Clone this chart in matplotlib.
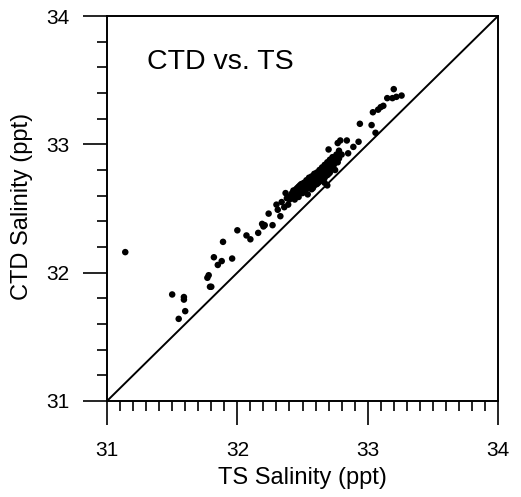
import numpy as np
import matplotlib
matplotlib.use("Agg")
import matplotlib.pyplot as plt
from matplotlib.ticker import MultipleLocator

plt.rcParams['font.family'] = ['Liberation Sans', 'DejaVu Sans']

# TS salinity (x) and CTD salinity (y)
ts_sal = [
    31.14,
    31.50, 31.59, 31.59, 31.60, 31.55,
    31.77, 31.78, 31.79, 31.80, 31.82, 31.85, 31.88, 31.89, 31.96,
    32.00, 32.07, 32.10, 32.16, 32.19, 32.20, 32.21, 32.24, 32.27, 32.30,
    32.31, 32.33, 32.34, 32.36, 32.37, 32.38, 32.40, 32.39, 32.41,
    32.42, 32.44, 32.45, 32.46, 32.47, 32.48, 32.49, 32.50, 32.50, 32.51,
    32.52, 32.52, 32.53, 32.54, 32.54, 32.55, 32.56, 32.56, 32.57, 32.57,
    32.58, 32.58, 32.59, 32.59, 32.60, 32.60, 32.61, 32.61, 32.62, 32.62,
    32.63, 32.63, 32.64, 32.64, 32.65, 32.65, 32.66, 32.66, 32.67, 32.67,
    32.68, 32.68, 32.69, 32.69, 32.70, 32.70, 32.71, 32.71, 32.72, 32.72,
    32.73, 32.74, 32.75, 32.75, 32.76, 32.77, 32.78, 32.78, 32.80,
    32.46, 32.48, 32.51, 32.53, 32.55, 32.57, 32.59, 32.61, 32.63, 32.65,
    32.67, 32.69, 32.71, 32.73, 32.74, 32.76, 32.50, 32.55, 32.60, 32.65,
    32.58, 32.62, 32.66, 32.70, 32.54, 32.44, 32.43, 32.47,
    32.67, 32.69,
    32.70, 32.77, 32.79, 32.84, 32.85, 32.89, 32.93,
    32.94, 33.03, 33.06, 33.04, 33.08, 33.10, 33.12, 33.15, 33.19, 33.20,
    33.22, 33.26,
]
ctd_sal = [
    32.16,
    31.83, 31.81, 31.79, 31.70, 31.64,
    31.96, 31.98, 31.89, 31.89, 32.12, 32.06, 32.09, 32.24, 32.11,
    32.33, 32.29, 32.26, 32.31, 32.38, 32.36, 32.37, 32.46, 32.37, 32.53,
    32.49, 32.44, 32.55, 32.51, 32.62, 32.58, 32.57, 32.53, 32.60,
    32.62, 32.60, 32.65, 32.63, 32.67, 32.64, 32.69, 32.66, 32.62, 32.70,
    32.67, 32.64, 32.72, 32.69, 32.66, 32.74, 32.71, 32.68, 32.75, 32.65,
    32.73, 32.70, 32.77, 32.68, 32.74, 32.71, 32.78, 32.69, 32.76, 32.73,
    32.80, 32.71, 32.77, 32.74, 32.82, 32.72, 32.79, 32.76, 32.84, 32.74,
    32.81, 32.78, 32.86, 32.76, 32.83, 32.80, 32.88, 32.78, 32.85, 32.82,
    32.90, 32.84, 32.87, 32.80, 32.92, 32.86, 32.95, 32.89, 32.92,
    32.66, 32.68, 32.65, 32.70, 32.69, 32.72, 32.72, 32.75, 32.75, 32.78,
    32.79, 32.81, 32.83, 32.86, 32.88, 32.89, 32.64, 32.71, 32.69, 32.76,
    32.66, 32.70, 32.73, 32.77, 32.61, 32.57, 32.64, 32.59,
    32.70, 32.68,
    32.96, 33.01, 33.03, 33.03, 32.93, 32.98, 33.02,
    33.16, 33.15, 33.09, 33.25, 33.27, 33.29, 33.30, 33.36, 33.36, 33.43,
    33.37, 33.38,
]

fig = plt.figure(figsize=(5.21, 4.97), dpi=100)
ax = fig.add_axes([0.2054, 0.1932, 0.7505, 0.7746])

ax.plot([31, 34], [31, 34], color='black', lw=1.4)
ax.scatter(ts_sal, ctd_sal, s=22, color='black', edgecolors='none', zorder=3)

ax.set_xlim(31, 34)
ax.set_ylim(31, 34)
ax.xaxis.set_major_locator(MultipleLocator(1))
ax.xaxis.set_minor_locator(MultipleLocator(0.1))
ax.yaxis.set_major_locator(MultipleLocator(1))
ax.yaxis.set_minor_locator(MultipleLocator(0.2))
ax.tick_params(which='both', direction='out', top=False, right=False, width=1.2)
ax.tick_params(which='major', length=17, labelsize=15)
ax.tick_params(axis='x', which='major', pad=12)
ax.tick_params(axis='y', which='major', pad=10)
ax.tick_params(which='minor', length=7)
for s in ax.spines.values():
    s.set_linewidth(1.4)

ax.text(31.31, 33.64, 'CTD vs. TS', fontsize=20.5, ha='left', va='center')
ax.set_xlabel('TS Salinity (ppt)', fontsize=17)
ax.set_ylabel('CTD Salinity (ppt)', fontsize=17)
ax.xaxis.set_label_coords(0.499, -0.172)
ax.yaxis.set_label_coords(-0.19, 0.505)

fig.savefig('out.png', dpi=100)
